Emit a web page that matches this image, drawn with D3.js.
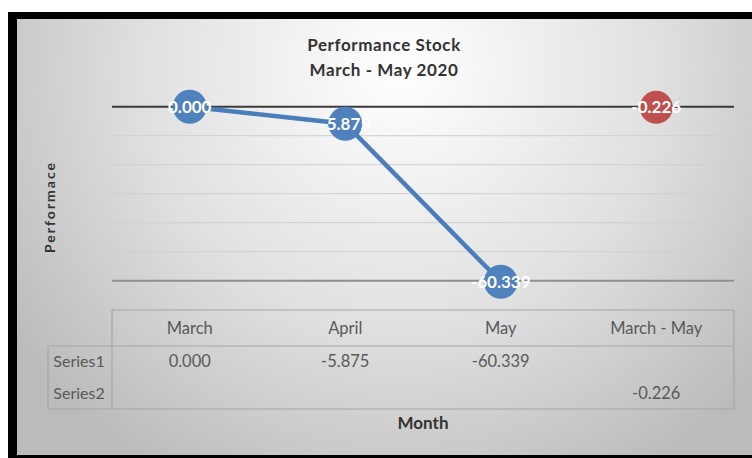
<!DOCTYPE html>
<html><head><meta charset="utf-8">
<script src="https://cdn.jsdelivr.net/npm/d3@7"></script>
<style>body{margin:0;background:#fff}svg{display:block}</style>
</head><body>
<script>
const categories = ["March", "April", "May", "March - May"];
const series1 = [0.000, -5.875, -60.339, null];
const series2 = [null, null, null, -0.226];
const seriesNames = ["Series1", "Series2"];
const yTicks = [0, -10, -20, -30, -40, -50, -60];
const titleLines = ["Performance Stock", "March - May 2020"];

const W = 752, H = 458;
const svg = d3.select("body").append("svg").attr("width", W).attr("height", H);
const defs = svg.append("defs");
const grad = defs.append("radialGradient").attr("id", "bg")
  .attr("gradientUnits", "userSpaceOnUse").attr("cx", 400).attr("cy", 70).attr("r", 470);
grad.append("stop").attr("offset", "0").attr("stop-color", "#ffffff");
grad.append("stop").attr("offset", "0.55").attr("stop-color", "#e0e0e0");
grad.append("stop").attr("offset", "1").attr("stop-color", "#bbbbbb");

// frame
svg.append("rect").attr("x", 8).attr("y", 12).attr("width", W - 8).attr("height", H - 12).attr("fill", "#000");
svg.append("rect").attr("x", 17).attr("y", 19).attr("width", W - 17).attr("height", 436).attr("fill", "url(#bg)");

const font = "Lato, 'Open Sans', sans-serif";
const x = d3.scaleBand().domain(categories).range([112, 734]);
const y = d3.scaleLinear().domain([-60, 0]).range([280.7, 106.7]);
const locale = d3.formatLocale({decimal: ".", thousands: ",", grouping: [3], currency: ["", ""], minus: "-"});
const fmt = locale.format(".3f");

// gridlines
const g = svg.append("g");
g.selectAll("line.grid").data(yTicks).join("line")
  .attr("x1", 112).attr("x2", 734)
  .attr("y1", d => y(d)).attr("y2", d => y(d))
  .attr("stroke", d => d === 0 ? "#3a3a3a" : (d === -60 ? "#8f8f8f" : "#cfcfcf"))
  .attr("stroke-width", d => (d === 0 || d === -60) ? 2 : 1);

// title
svg.append("text").attr("x", 384).attr("y", 51).attr("text-anchor", "middle")
  .attr("font-family", font).attr("font-weight", "bold").attr("font-size", 17).attr("fill", "#333")
  .attr("letter-spacing", 0.6)
  .selectAll("tspan").data(titleLines).join("tspan")
  .attr("x", 384).attr("dy", (d, i) => i ? 25 : 0).text(d => d);

// axis titles
svg.append("text").attr("transform", "translate(55,207) rotate(-90)").attr("text-anchor", "middle")
  .attr("font-family", font).attr("font-weight", "bold").attr("font-size", 14).attr("fill", "#333")
  .attr("letter-spacing", 2)
  .text("Performace");
svg.append("text").attr("x", 423).attr("y", 429).attr("text-anchor", "middle")
  .attr("font-family", font).attr("font-weight", "bold").attr("font-size", 17).attr("fill", "#333")
  .text("Month");

// series line
const cx = d => x(d) + x.bandwidth() / 2;
const pts1 = categories.map((c, i) => ({c, v: series1[i]})).filter(d => d.v !== null);
const pts2 = categories.map((c, i) => ({c, v: series2[i]})).filter(d => d.v !== null);
svg.append("path").datum(pts1)
  .attr("d", d3.line().x(d => cx(d.c)).y(d => y(d.v)))
  .attr("fill", "none").attr("stroke", "#4a7ebb").attr("stroke-width", 4.5);

function markers(data, color, r) {
  const gg = svg.append("g");
  gg.selectAll("circle").data(data).join("circle")
    .attr("cx", d => cx(d.c)).attr("cy", d => y(d.v)).attr("r", r).attr("fill", color);
  gg.selectAll("text").data(data).join("text")
    .attr("x", d => cx(d.c)).attr("y", d => y(d.v) + 6).attr("text-anchor", "middle")
    .attr("font-family", font).attr("font-weight", "bold").attr("font-size", 17).attr("fill", "#fff")
    .text(d => fmt(d.v));
}
markers(pts1, "#4f81bd", 17);
markers(pts2, "#c0504d", 16.5);

// data table
const tb = svg.append("g").attr("stroke", "#a6a6a6").attr("stroke-width", 1.2);
const tTop = 310, tHead = 346, tBot = 409, tLeft = 48;
tb.append("line").attr("x1", 112).attr("x2", 734).attr("y1", tTop).attr("y2", tTop);
tb.append("line").attr("x1", tLeft).attr("x2", 734).attr("y1", tHead).attr("y2", tHead);
tb.append("line").attr("x1", tLeft).attr("x2", 734).attr("y1", tBot).attr("y2", tBot);
tb.append("line").attr("x1", 112).attr("x2", 112).attr("y1", tTop).attr("y2", tBot);
tb.append("line").attr("x1", 734).attr("x2", 734).attr("y1", tTop).attr("y2", tBot);
tb.append("line").attr("x1", tLeft).attr("x2", tLeft).attr("y1", tHead).attr("y2", tBot);

const tt = svg.append("g").attr("font-family", font).attr("font-size", 16.5).attr("fill", "#595959").attr("text-anchor", "middle");
tt.selectAll("text.h").data(categories).join("text").attr("class", "h")
  .attr("x", d => cx(d)).attr("y", 334).text(d => d);
const rowsY = [367, 399];
[series1, series2].forEach((s, j) => {
  tt.append("text").attr("x", 79).attr("y", rowsY[j]).attr("font-size", 16).text(seriesNames[j]);
  tt.selectAll("text.r" + j).data(categories.map((c, i) => ({c, v: s[i]})).filter(d => d.v !== null))
    .join("text").attr("class", "r" + j)
    .attr("x", d => cx(d.c)).attr("y", rowsY[j]).text(d => fmt(d.v));
});
</script>
</body></html>
